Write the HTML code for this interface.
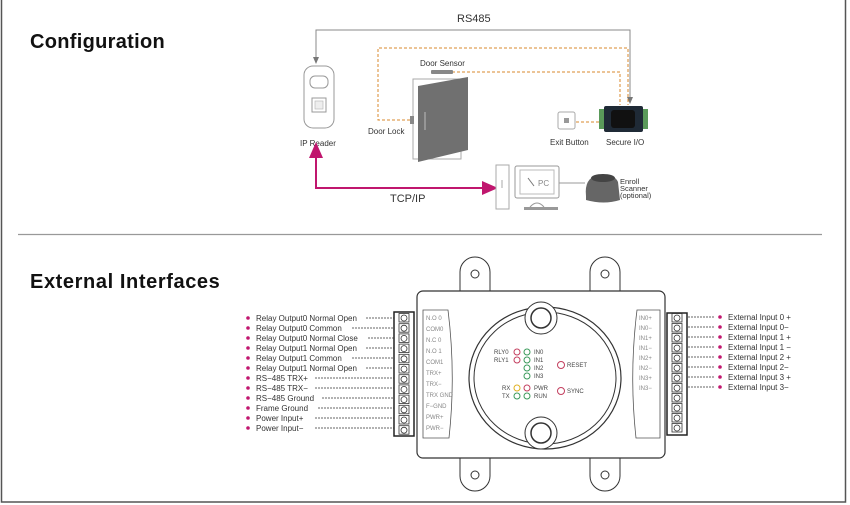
<!DOCTYPE html>
<html><head><meta charset="utf-8"><style>
html,body{margin:0;padding:0;background:#fff;}
svg{display:block;font-family:"Liberation Sans",sans-serif;}
</style></head><body>
<svg width="850" height="505" viewBox="0 0 850 505" xmlns="http://www.w3.org/2000/svg">
<defs>
<marker id="ag" markerWidth="8" markerHeight="8" refX="4" refY="4" orient="auto-start-reverse"><path d="M0,1 L7,4 L0,7 z" fill="#777"/></marker>
<marker id="am" markerWidth="8" markerHeight="8" refX="4" refY="4" orient="auto-start-reverse"><path d="M0,0.5 L8,4 L0,7.5 z" fill="#c0166e"/></marker>
</defs>
<!-- frame -->
<path d="M1.5,0 V502 H845.5 V0" fill="none" stroke="#555" stroke-width="1.5"/>
<line x1="18" y1="234.5" x2="822" y2="234.5" stroke="#999" stroke-width="1.2"/>
<text x="30" y="48" font-size="20" font-weight="bold" fill="#111" letter-spacing="0.3">Configuration</text>
<text x="30" y="288" font-size="20" font-weight="bold" fill="#111" letter-spacing="0.6">External Interfaces</text>

<!-- RS485 -->
<text x="457" y="22" font-size="11" fill="#333">RS485</text>
<polyline points="316,61 316,30 630,30 630,101" fill="none" stroke="#888" stroke-width="1" marker-start="url(#ag)" marker-end="url(#ag)"/>
<!-- orange dashed -->
<g fill="none" stroke="#d98a2c" stroke-width="1" stroke-dasharray="3,2">
<polyline points="410,120 378,120 378,48 628,48 628,105"/>
<polyline points="452,72 620,72 620,105"/>
<line x1="576" y1="122" x2="602" y2="122"/>
</g>
<!-- IP reader -->
<rect x="304" y="66" width="30" height="62" rx="9" fill="#fff" stroke="#999"/>
<rect x="310" y="76" width="18" height="12" rx="5" fill="#fff" stroke="#999"/>
<rect x="312" y="98" width="14" height="14" fill="#fff" stroke="#999"/>
<rect x="315" y="101" width="8" height="8" fill="#eee" stroke="#bbb" stroke-width="0.7"/>
<text x="300" y="146" font-size="8" fill="#333">IP Reader</text>
<!-- door -->
<rect x="413" y="79" width="48" height="80" fill="#fff" stroke="#aaa"/>
<rect x="431" y="70" width="22" height="4" rx="1" fill="#888"/>
<text x="420" y="66" font-size="8" fill="#333">Door Sensor</text>
<rect x="410" y="116" width="4" height="8" fill="#888"/>
<polygon points="418,86 468,77 468,150 418,162" fill="#707070"/>
<line x1="425" y1="112" x2="425" y2="130" stroke="#bbb"/>
<text x="368" y="134" font-size="8" fill="#333">Door Lock</text>
<!-- exit button -->
<rect x="558" y="112" width="17" height="17" rx="2" fill="#fff" stroke="#aaa"/>
<rect x="564" y="118" width="5" height="5" fill="#999"/>
<text x="550" y="145" font-size="8" fill="#333">Exit Button</text>
<!-- secure IO -->
<rect x="599" y="109" width="6" height="20" fill="#5a9a5a"/>
<rect x="642" y="109" width="6" height="20" fill="#5a9a5a"/>
<rect x="604" y="106" width="39" height="26" rx="2" fill="#1f2a36"/>
<rect x="611" y="110" width="24" height="18" rx="3" fill="#111"/>
<text x="606" y="145" font-size="8" fill="#333">Secure I/O</text>
<!-- TCP/IP -->
<polyline points="316,150 316,188 490,188" fill="none" stroke="#c0166e" stroke-width="2" marker-start="url(#am)" marker-end="url(#am)"/>
<text x="390" y="202" font-size="11" fill="#333">TCP/IP</text>
<!-- PC -->
<rect x="496" y="165" width="13" height="44" fill="#fff" stroke="#aaa"/>
<line x1="502" y1="180" x2="502" y2="188" stroke="#aaa"/>
<rect x="515" y="166" width="44" height="32" rx="2" fill="#fff" stroke="#999"/>
<rect x="520" y="170" width="34" height="24" fill="#fff" stroke="#bbb"/>
<line x1="528" y1="178" x2="534" y2="186" stroke="#777"/>
<text x="538" y="186" font-size="8" fill="#888">PC</text>
<path d="M530,207 Q537,199 544,207" fill="none" stroke="#999"/>
<rect x="524" y="207" width="34" height="3" fill="#999"/>
<line x1="559" y1="183" x2="585" y2="183" stroke="#999"/>
<path d="M586,196 Q584,178 598,175 Q614,173 618,182 L620,200 Q604,205 586,200 z" fill="#666"/>
<ellipse cx="603" cy="178" rx="12" ry="4" fill="#444"/>
<text x="620" y="184" font-size="7.5" fill="#333">Enroll</text>
<text x="620" y="191" font-size="7.5" fill="#333">Scanner</text>
<text x="620" y="198" font-size="7.5" fill="#333">(optional)</text>

<!-- device tabs -->
<g fill="#fff" stroke="#333" stroke-width="1">
<path d="M460,292 V272 A15,15 0 0 1 490,272 V292"/>
<path d="M590,292 V272 A15,15 0 0 1 620,272 V292"/>
<path d="M460,456 V476 A15,15 0 0 0 490,476 V456"/>
<path d="M590,456 V476 A15,15 0 0 0 620,476 V456"/>
<circle cx="475" cy="274" r="4"/><circle cx="605" cy="274" r="4"/>
<circle cx="475" cy="475" r="4"/><circle cx="605" cy="475" r="4"/>
</g>
<rect x="417" y="291" width="248" height="167" rx="6" fill="#fff" stroke="#333" stroke-width="1.2"/>
<!-- circle -->
<ellipse cx="545" cy="378" rx="76" ry="71" fill="none" stroke="#333" stroke-width="1.2"/>
<ellipse cx="545" cy="378" rx="71" ry="66" fill="none" stroke="#333" stroke-width="1"/>
<circle cx="541" cy="318" r="16" fill="#fff" stroke="#333"/>
<circle cx="541" cy="318" r="10" fill="#fff" stroke="#333" stroke-width="1.5"/>
<circle cx="541" cy="433" r="16" fill="#fff" stroke="#333"/>
<circle cx="541" cy="433" r="10" fill="#fff" stroke="#333" stroke-width="1.5"/>
<!-- LEDs -->
<g font-size="6" fill="#444">
<text x="494" y="354">RLY0</text><text x="494" y="362">RLY1</text>
<text x="534" y="354">IN0</text><text x="534" y="362">IN1</text><text x="534" y="370">IN2</text><text x="534" y="378">IN3</text>
<text x="502" y="390">RX</text><text x="502" y="398">TX</text>
<text x="534" y="390">PWR</text><text x="534" y="398">RUN</text>
<text x="567" y="367">RESET</text><text x="567" y="393">SYNC</text>
</g>
<g fill="none" stroke-width="1">
<circle cx="517" cy="352" r="3" stroke="#c33f5f"/><circle cx="527" cy="352" r="3" stroke="#3a9a5a"/>
<circle cx="517" cy="360" r="3" stroke="#c33f5f"/><circle cx="527" cy="360" r="3" stroke="#3a9a5a"/>
<circle cx="527" cy="368" r="3" stroke="#3a9a5a"/><circle cx="527" cy="376" r="3" stroke="#3a9a5a"/>
<circle cx="517" cy="388" r="3" stroke="#e0b020"/><circle cx="527" cy="388" r="3" stroke="#c33f5f"/>
<circle cx="517" cy="396" r="3" stroke="#3a9a5a"/><circle cx="527" cy="396" r="3" stroke="#3a9a5a"/>
<circle cx="561" cy="365" r="3.5" stroke="#c33f5f"/><circle cx="561" cy="391" r="3.5" stroke="#c33f5f"/>
</g>
<!-- side panels -->
<path d="M423,310 H448 Q456,374 449,438 H423 z" fill="#fff" stroke="#555" stroke-width="0.8"/>
<path d="M660,310 H637 Q629,374 636,438 H660 z" fill="#fff" stroke="#555" stroke-width="0.8"/>
<g font-size="6" fill="#888">
<text x="426" y="320">N.O 0</text><text x="426" y="331">COM0</text><text x="426" y="342">N.C 0</text><text x="426" y="353">N.O 1</text><text x="426" y="364">COM1</text><text x="426" y="375">TRX+</text><text x="426" y="386">TRX−</text><text x="426" y="397">TRX GND</text><text x="426" y="408">F−GND</text><text x="426" y="419">PWR+</text><text x="426" y="430">PWR−</text>
<text x="639" y="320">IN0+</text><text x="639" y="330">IN0−</text><text x="639" y="340">IN1+</text><text x="639" y="350">IN1−</text><text x="639" y="360">IN2+</text><text x="639" y="370">IN2−</text><text x="639" y="380">IN3+</text><text x="639" y="390">IN3−</text>
</g>
<!-- terminal blocks -->
<rect x="394" y="312" width="20" height="124" fill="#fff" stroke="#222" stroke-width="1.5"/>
<rect x="667" y="313" width="20" height="122" fill="#fff" stroke="#222" stroke-width="1.5"/>
<g id="scr" fill="none" stroke="#333" stroke-width="0.8">
<rect x="399" y="313.5" width="10" height="8.5"/><circle cx="404" cy="318" r="3"/>
</g>
<use href="#scr" y="10.2"/><use href="#scr" y="20.4"/><use href="#scr" y="30.6"/><use href="#scr" y="40.8"/><use href="#scr" y="51"/><use href="#scr" y="61.2"/><use href="#scr" y="71.4"/><use href="#scr" y="81.6"/><use href="#scr" y="91.8"/><use href="#scr" y="102"/><use href="#scr" y="112.2"/>
<g transform="translate(273,0)">
<use href="#scr" y="0"/><use href="#scr" y="10"/><use href="#scr" y="20"/><use href="#scr" y="30"/><use href="#scr" y="40"/><use href="#scr" y="50"/><use href="#scr" y="60"/><use href="#scr" y="70"/><use href="#scr" y="80"/><use href="#scr" y="90"/><use href="#scr" y="100"/><use href="#scr" y="110"/>
</g>
<!-- left labels -->
<g font-size="8" fill="#333">
<text x="256" y="321">Relay Output0 Normal Open</text>
<text x="256" y="331">Relay Output0 Common</text>
<text x="256" y="341">Relay Output0 Normal Close</text>
<text x="256" y="351">Relay Output1 Normal Open</text>
<text x="256" y="361">Relay Output1 Common</text>
<text x="256" y="371">Relay Output1 Normal Open</text>
<text x="256" y="381">RS−485 TRX+</text>
<text x="256" y="391">RS−485 TRX−</text>
<text x="256" y="401">RS−485 Ground</text>
<text x="256" y="411">Frame Ground</text>
<text x="256" y="421">Power Input+</text>
<text x="256" y="431">Power Input−</text>
</g>
<g fill="#c0166e">
<circle cx="248" cy="318" r="1.8"/><circle cx="248" cy="328" r="1.8"/><circle cx="248" cy="338" r="1.8"/><circle cx="248" cy="348" r="1.8"/><circle cx="248" cy="358" r="1.8"/><circle cx="248" cy="368" r="1.8"/><circle cx="248" cy="378" r="1.8"/><circle cx="248" cy="388" r="1.8"/><circle cx="248" cy="398" r="1.8"/><circle cx="248" cy="408" r="1.8"/><circle cx="248" cy="418" r="1.8"/><circle cx="248" cy="428" r="1.8"/>
</g>
<g stroke="#333" stroke-width="0.8" stroke-dasharray="2,1">
<line x1="366" y1="318" x2="394" y2="318"/><line x1="352" y1="328" x2="394" y2="328"/><line x1="368" y1="338" x2="394" y2="338"/><line x1="366" y1="348" x2="394" y2="348"/><line x1="352" y1="358" x2="394" y2="358"/><line x1="366" y1="368" x2="394" y2="368"/><line x1="315" y1="378" x2="394" y2="378"/><line x1="315" y1="388" x2="394" y2="388"/><line x1="322" y1="398" x2="394" y2="398"/><line x1="318" y1="408" x2="394" y2="408"/><line x1="315" y1="418" x2="394" y2="418"/><line x1="315" y1="428" x2="394" y2="428"/>
</g>
<!-- right labels -->
<g stroke="#333" stroke-width="0.8" stroke-dasharray="2,1">
<line x1="688" y1="317" x2="714" y2="317"/><line x1="688" y1="327" x2="714" y2="327"/><line x1="688" y1="337" x2="714" y2="337"/><line x1="688" y1="347" x2="714" y2="347"/><line x1="688" y1="357" x2="714" y2="357"/><line x1="688" y1="367" x2="714" y2="367"/><line x1="688" y1="377" x2="714" y2="377"/><line x1="688" y1="387" x2="714" y2="387"/>
</g>
<g fill="#c0166e">
<circle cx="720" cy="317" r="1.8"/><circle cx="720" cy="327" r="1.8"/><circle cx="720" cy="337" r="1.8"/><circle cx="720" cy="347" r="1.8"/><circle cx="720" cy="357" r="1.8"/><circle cx="720" cy="367" r="1.8"/><circle cx="720" cy="377" r="1.8"/><circle cx="720" cy="387" r="1.8"/>
</g>
<g font-size="8" fill="#333">
<text x="728" y="320">External Input 0 +</text>
<text x="728" y="330">External Input 0−</text>
<text x="728" y="340">External Input 1 +</text>
<text x="728" y="350">External Input 1 −</text>
<text x="728" y="360">External Input 2 +</text>
<text x="728" y="370">External Input 2−</text>
<text x="728" y="380">External Input 3 +</text>
<text x="728" y="390">External Input 3−</text>
</g>
</svg>
</body></html>
